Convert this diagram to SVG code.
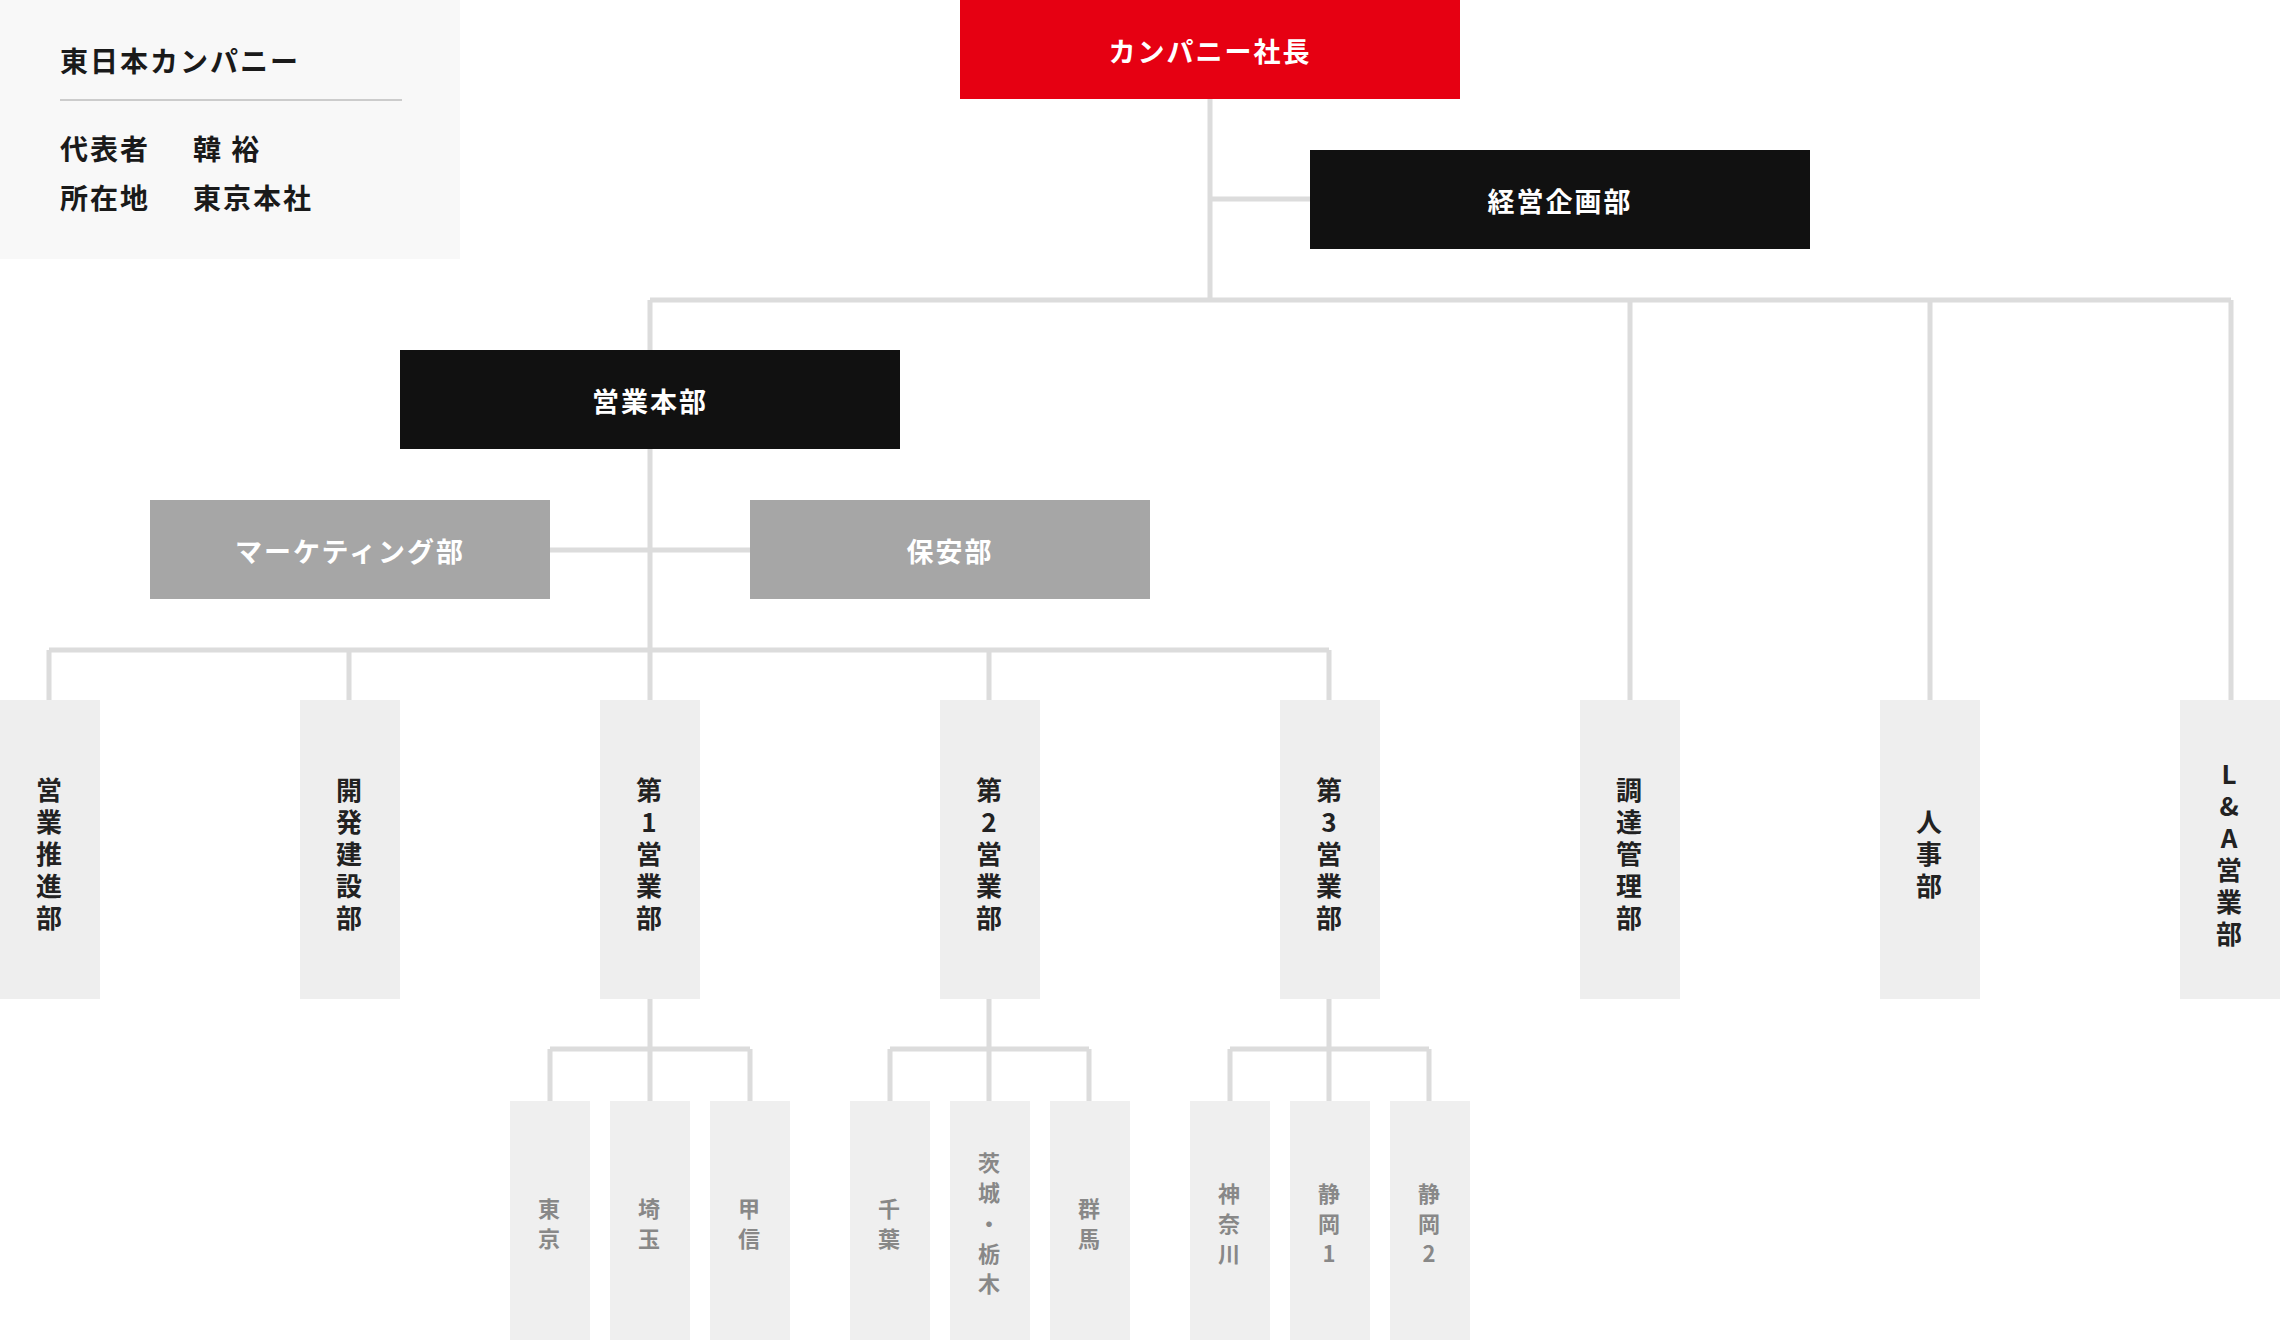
<svg xmlns="http://www.w3.org/2000/svg" width="2280" height="1340" viewBox="0 0 2280 1340">
<style>
text{font-family:"Noto Sans CJK JP","Noto Sans",sans-serif;font-weight:bold;letter-spacing:2px}
.w{fill:#fff;font-size:27px;text-anchor:middle;dominant-baseline:central}
.c{fill:#222;font-size:26px;text-anchor:middle;dominant-baseline:central}
.s{fill:#888;font-size:22px;text-anchor:middle;dominant-baseline:central}
.info{fill:#1a1a1a;font-size:28px}
.l{stroke:#dcdcdc;stroke-width:5;fill:none}
.col{fill:#eeeeee}.sub{fill:#efefef}
</style>
<g id="info"><rect x="0" y="0" width="460" height="259" fill="#f8f8f8"/>
<text class="info" x="60" y="72">東日本カンパニー</text>
<line x1="60" y1="100" x2="402" y2="100" stroke="#ccc" stroke-width="2"/>
<text class="info" x="60" y="160">代表者</text><text class="info" x="193" y="160">韓 裕</text>
<text class="info" x="60" y="209">所在地</text><text class="info" x="193" y="209">東京本社</text></g>
<g id="connectors" class="l">
<path d="M1210 99V300M1210 199H1310M650 300H2231M650 300V700M550 550H750M49 650H1329M49 650V700M349 650V700M989 650V700M1329 650V700M1630 300V700M1930 300V700M2231 300V700"/>
<path d="M650 999V1101M550 1049H750M550 1049V1101M750 1049V1101M989 999V1101M890 1049H1089M890 1049V1101M1089 1049V1101M1329 999V1101M1230 1049H1429M1230 1049V1101M1429 1049V1101"/>
</g>
<g id="president"><rect x="960" y="0" width="500" height="99" fill="#e60012"/><text class="w" x="1210" y="50">カンパニー社長</text></g>
<g id="keiei"><rect x="1310" y="150" width="500" height="99" fill="#111"/><text class="w" x="1560" y="200">経営企画部</text></g>
<g id="eigyohonbu"><rect x="400" y="350" width="500" height="99" fill="#111"/><text class="w" x="650" y="400">営業本部</text></g>
<g id="marketing"><rect x="150" y="500" width="400" height="99" fill="#a6a6a6"/><text class="w" x="350" y="550">マーケティング部</text></g>
<g id="hoan"><rect x="750" y="500" width="400" height="99" fill="#a6a6a6"/><text class="w" x="950" y="550">保安部</text></g>
<g id="c1"><rect class="col" x="0" y="700" width="100" height="299"/><text class="c"><tspan x="50" y="788">営</tspan><tspan x="50" y="820">業</tspan><tspan x="50" y="852">推</tspan><tspan x="50" y="884">進</tspan><tspan x="50" y="916">部</tspan></text></g>
<g id="c2"><rect class="col" x="300" y="700" width="100" height="299"/><text class="c"><tspan x="350" y="788">開</tspan><tspan x="350" y="820">発</tspan><tspan x="350" y="852">建</tspan><tspan x="350" y="884">設</tspan><tspan x="350" y="916">部</tspan></text></g>
<g id="c3"><rect class="col" x="600" y="700" width="100" height="299"/><text class="c"><tspan x="650" y="788">第</tspan><tspan x="650" y="820">1</tspan><tspan x="650" y="852">営</tspan><tspan x="650" y="884">業</tspan><tspan x="650" y="916">部</tspan></text></g>
<g id="c4"><rect class="col" x="940" y="700" width="100" height="299"/><text class="c"><tspan x="990" y="788">第</tspan><tspan x="990" y="820">2</tspan><tspan x="990" y="852">営</tspan><tspan x="990" y="884">業</tspan><tspan x="990" y="916">部</tspan></text></g>
<g id="c5"><rect class="col" x="1280" y="700" width="100" height="299"/><text class="c"><tspan x="1330" y="788">第</tspan><tspan x="1330" y="820">3</tspan><tspan x="1330" y="852">営</tspan><tspan x="1330" y="884">業</tspan><tspan x="1330" y="916">部</tspan></text></g>
<g id="c6"><rect class="col" x="1580" y="700" width="100" height="299"/><text class="c"><tspan x="1630" y="788">調</tspan><tspan x="1630" y="820">達</tspan><tspan x="1630" y="852">管</tspan><tspan x="1630" y="884">理</tspan><tspan x="1630" y="916">部</tspan></text></g>
<g id="c7"><rect class="col" x="1880" y="700" width="100" height="299"/><text class="c"><tspan x="1930" y="820">人</tspan><tspan x="1930" y="852">事</tspan><tspan x="1930" y="884">部</tspan></text></g>
<g id="c8"><rect class="col" x="2180" y="700" width="100" height="299"/><text class="c"><tspan x="2230" y="772">L</tspan><tspan x="2230" y="804">&amp;</tspan><tspan x="2230" y="836">A</tspan><tspan x="2230" y="868">営</tspan><tspan x="2230" y="900">業</tspan><tspan x="2230" y="932">部</tspan></text></g>
<g id="s1"><rect class="sub" x="510" y="1101" width="80" height="239"/><text class="s"><tspan x="550" y="1207">東</tspan><tspan x="550" y="1237">京</tspan></text></g>
<g id="s2"><rect class="sub" x="610" y="1101" width="80" height="239"/><text class="s"><tspan x="650" y="1207">埼</tspan><tspan x="650" y="1237">玉</tspan></text></g>
<g id="s3"><rect class="sub" x="710" y="1101" width="80" height="239"/><text class="s"><tspan x="750" y="1207">甲</tspan><tspan x="750" y="1237">信</tspan></text></g>
<g id="s4"><rect class="sub" x="850" y="1101" width="80" height="239"/><text class="s"><tspan x="890" y="1207">千</tspan><tspan x="890" y="1237">葉</tspan></text></g>
<g id="s5"><rect class="sub" x="950" y="1101" width="80" height="239"/><text class="s"><tspan x="990" y="1161">茨</tspan><tspan x="990" y="1191">城</tspan><tspan x="990" y="1222">・</tspan><tspan x="990" y="1252">栃</tspan><tspan x="990" y="1282">木</tspan></text></g>
<g id="s6"><rect class="sub" x="1050" y="1101" width="80" height="239"/><text class="s"><tspan x="1090" y="1207">群</tspan><tspan x="1090" y="1237">馬</tspan></text></g>
<g id="s7"><rect class="sub" x="1190" y="1101" width="80" height="239"/><text class="s"><tspan x="1230" y="1192">神</tspan><tspan x="1230" y="1222">奈</tspan><tspan x="1230" y="1252">川</tspan></text></g>
<g id="s8"><rect class="sub" x="1290" y="1101" width="80" height="239"/><text class="s"><tspan x="1330" y="1192">静</tspan><tspan x="1330" y="1222">岡</tspan><tspan x="1330" y="1252">1</tspan></text></g>
<g id="s9"><rect class="sub" x="1390" y="1101" width="80" height="239"/><text class="s"><tspan x="1430" y="1192">静</tspan><tspan x="1430" y="1222">岡</tspan><tspan x="1430" y="1252">2</tspan></text></g>
</svg>
